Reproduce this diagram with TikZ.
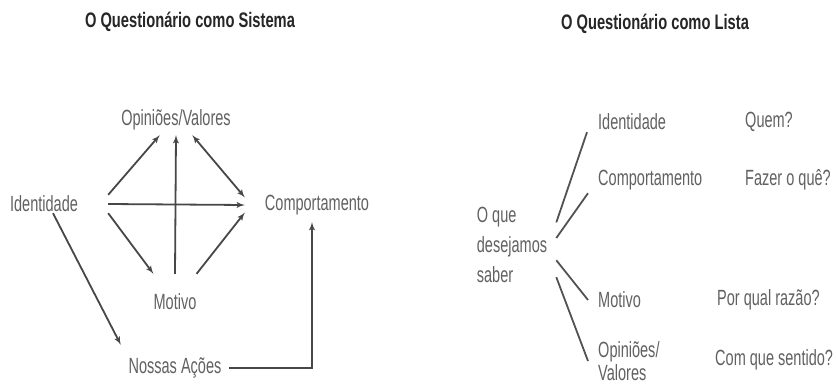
\documentclass[tikz,border=0pt]{standalone}
\usepackage{fontspec}
\setmainfont[FakeStretch=0.66]{Liberation Sans}
\newfontfamily\titlefont[FakeStretch=0.7]{Liberation Sans}
\usepackage{tikz}
\usetikzlibrary{positioning}
\usetikzlibrary{shapes,arrows}
\tikzstyle{lbl} = [inner sep=0pt, text=black!62,
                font=\fontsize{22}{30}\selectfont]
\tikzstyle{heading} = [inner sep=0pt, text=black!85,
                font=\titlefont\bfseries\fontsize{21}{23}\selectfont]
\tikzstyle{arrowline} = [draw, -latex', line width=1.8pt, black!72]
\tikzstyle{branch} = [draw, line width=1.8pt, black!68]

\begin{document}
\begin{tikzpicture}[x=1pt,y=-1pt]
            \fill[white] (0,0) rectangle (836,388);
            \useasboundingbox (0,0) rectangle (836,388);
            % o questionario como sistema
            \node[heading](sistema) at (190,22){O Questionário como Sistema};
            \node[lbl, minimum width=128pt, minimum height=18pt](iden) at (44,204){Identidade};
            \node[lbl, minimum height=30pt](opin) at (176,120){Opiniões/Valores};
            \node[lbl, minimum width=144pt, minimum height=34pt](comp) at (317,205){Comportamento};
            \node[lbl, minimum width=42pt, minimum height=56pt](motivo) at (175,302){Motivo};
            \node[lbl, minimum width=108pt, minimum height=46pt](acoes) at (175,368){Nossas Ações};
            \path[arrowline] (iden.north east) -- (opin.223);
            \path[arrowline] (motivo.north) -- (opin.south);
            \path[arrowline, latex'-latex'] (opin.317) -- (comp.174);
            \path[arrowline] (iden.east) -- (comp.west);
            \path[arrowline] (iden.south east) -- (motivo.north west);
            \path[arrowline] (motivo.north east) -- (comp.186);
            \path[arrowline] ([xshift=9pt]iden.south) -- (acoes.north west);
            \path[arrowline] (acoes.east) -| ([xshift=-5pt]comp.south);
            % o questionario como lista
            \node[heading](lista) at (655,24){O Questionário como Lista};
            \node[lbl, align=left, inner xsep=9pt](want) at (512,245){O que\\desejamos\\saber};
            \node[lbl, anchor=west, inner xsep=11pt, minimum height=20pt](rid) at (587,122){Identidade};
            \node[lbl, anchor=west, inner xsep=10pt, minimum height=26pt](rcomp) at (588,180){Comportamento};
            \node[lbl, anchor=west, inner xsep=10pt](rmot) at (588,300){Motivo};
            \node[lbl, anchor=west, inner xsep=10pt, align=left,
                  font=\fontsize{22}{23}\selectfont](rop) at (588,361){Opiniões/\\Valores};
            \node[lbl, anchor=west](quem) at (745,122){Quem?};
            \node[lbl, anchor=west](fazer) at (745,180){Fazer o quê?};
            \node[lbl, anchor=west](razao) at (717,300){Por qual razão?};
            \node[lbl, anchor=west](sentido) at (715,360){Com que sentido?};
            \path[branch] (want.27) -- (rid.south west);
            \path[branch] (want.9) -- (rcomp.south west);
            \path[branch] (want.-19) -- (rmot.west);
            \path[branch] (want.-36) -- (rop.west);
        \end{tikzpicture}
\end{document}
